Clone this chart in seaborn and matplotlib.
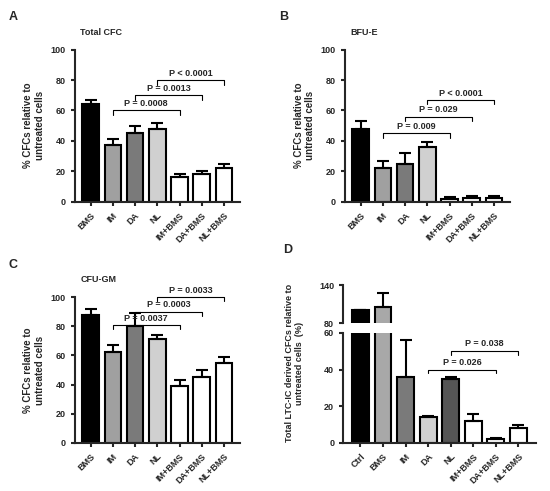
import numpy as np
import pandas as pd
import matplotlib
matplotlib.use("Agg")
import matplotlib.pyplot as plt
import seaborn as sns

sns.set_style("ticks")
plt.rcParams["font.family"] = ["Liberation Sans", "DejaVu Sans"]
plt.rcParams["font.weight"] = "bold"
plt.rcParams["axes.labelweight"] = "bold"

# ---- data ----
groups_abc = ["BMS", "IM", "DA", "NL", "IM+BMS", "DA+BMS", "NL+BMS"]
colors_abc = ["#000000", "#a0a0a0", "#7a7a7a", "#d0d0d0", "#ffffff", "#ffffff", "#ffffff"]

a_vals = [64, 37, 45, 48, 16, 18, 22]
a_err = [3, 4, 5, 4, 2, 2, 3]
a_pvals = ["P = 0.0008", "P = 0.0013", "P < 0.0001"]
a_plevels = [60, 70, 80]

b_vals = [48, 22, 25, 36, 2, 2.5, 2.5]
b_err = [5, 5, 7, 3, 1, 1.5, 1]
b_pvals = ["P = 0.009", "P = 0.029", "P < 0.0001"]
b_plevels = [45, 56, 67]

c_vals = [88, 62, 80, 71, 39, 45, 55]
c_err = [4, 5, 9, 3, 4, 5, 4]
c_pvals = ["P = 0.0037", "P = 0.0003", "P = 0.0033"]
c_plevels = [81, 90, 100]

groups_d = ["Ctrl", "BMS", "IM", "DA", "NL", "IM+BMS", "DA+BMS", "NL+BMS"]
colors_d = ["#000000", "#a8a8a8", "#7a7a7a", "#d0d0d0", "#555555", "#ffffff", "#ffffff", "#ffffff"]
d_vals = [100, 105, 36, 14, 35, 12, 2, 8]
d_err = [0, 22, 20, 0.5, 1, 4, 0.5, 2]
d_pairs = [(3, 6), (4, 7)]
d_pvals = ["P = 0.026", "P = 0.038"]
d_plevels = [40, 50]

fig = plt.figure(figsize=(5.5, 4.91), dpi=100)


def bars(ax, groups, vals, errs, colors):
    df = pd.DataFrame({"g": groups, "v": vals})
    sns.barplot(data=df, x="g", y="v", hue="g", palette=colors, legend=False,
                edgecolor="black", linewidth=1.5, width=0.75, ax=ax)
    ax.errorbar(np.arange(len(vals)), vals, yerr=[np.zeros(len(vals)), errs],
                fmt="none", ecolor="black", elinewidth=1.5, capsize=4, capthick=1.5)
    ax.set_xlabel("")
    ax.set_xticks(range(len(groups)))
    ax.set_xticklabels(groups, rotation=45, ha="right", rotation_mode="anchor", fontsize=6.5)
    ax.tick_params(labelsize=6.5, width=1.5, length=3)
    for s in ["left", "bottom"]:
        ax.spines[s].set_linewidth(1.5)
    sns.despine(ax=ax)


def bracket(ax, x1, x2, y, text, h=3):
    ax.plot([x1, x1, x2, x2], [y - h, y, y, y - h], color="black", lw=0.8, clip_on=False)
    ax.text((x1 + x2) / 2, y + 1.5, text, ha="center", va="bottom", fontsize=6.5, clip_on=False)


def panel(rect, letter, title, vals, errs, pvals, levels):
    ax = fig.add_axes(rect)
    bars(ax, groups_abc, vals, errs, colors_abc)
    ax.set_ylim(0, 100)
    ax.set_yticks(range(0, 101, 20))
    ax.set_ylabel("% CFCs relative to\nuntreated cells", fontsize=7)
    for i, (p, y) in enumerate(zip(pvals, levels)):
        bracket(ax, 1 + i, 4 + i, y, p)
    fig.text(rect[0] - 0.12, rect[1] + rect[3] + 0.06, letter, fontsize=9)
    fig.text(rect[0] + 0.01, rect[1] + rect[3] + 0.03, title, fontsize=6.5)
    return ax


panel([0.136, 0.589, 0.30, 0.31], "A", "Total CFC", a_vals, a_err, a_pvals, a_plevels)
panel([0.627, 0.589, 0.30, 0.31], "B", "BFU-E", b_vals, b_err, b_pvals, b_plevels)
panel([0.136, 0.098, 0.30, 0.297], "C", "CFU-GM", c_vals, c_err, c_pvals, c_plevels)

# ---- panel D: broken axis ----
ax_lo = fig.add_axes([0.624, 0.098, 0.35, 0.224])
ax_hi = fig.add_axes([0.624, 0.342, 0.35, 0.077], sharex=ax_lo)
bars(ax_lo, groups_d, d_vals, d_err, colors_d)
bars(ax_hi, groups_d, d_vals, d_err, colors_d)
ax_lo.set_ylim(0, 60)
ax_lo.set_yticks(range(0, 61, 20))
ax_hi.set_ylim(80, 140)
ax_hi.set_yticks([80, 140])
ax_hi.spines["bottom"].set_visible(False)
ax_hi.tick_params(axis="x", bottom=False, labelbottom=False)
ax_hi.set_ylabel("")
ax_lo.set_ylabel("")
for (i, j), p, y in zip(d_pairs, d_pvals, d_plevels):
    bracket(ax_lo, i, j, y, p, h=2)
fig.text(0.535, 0.26, "Total LTC-IC derived CFCs relative to\nuntreated cells  (%)",
         rotation=90, ha="center", va="center", fontsize=6.5)
fig.text(0.515, 0.485, "D", fontsize=9)

fig.savefig("out.png", dpi=100)
